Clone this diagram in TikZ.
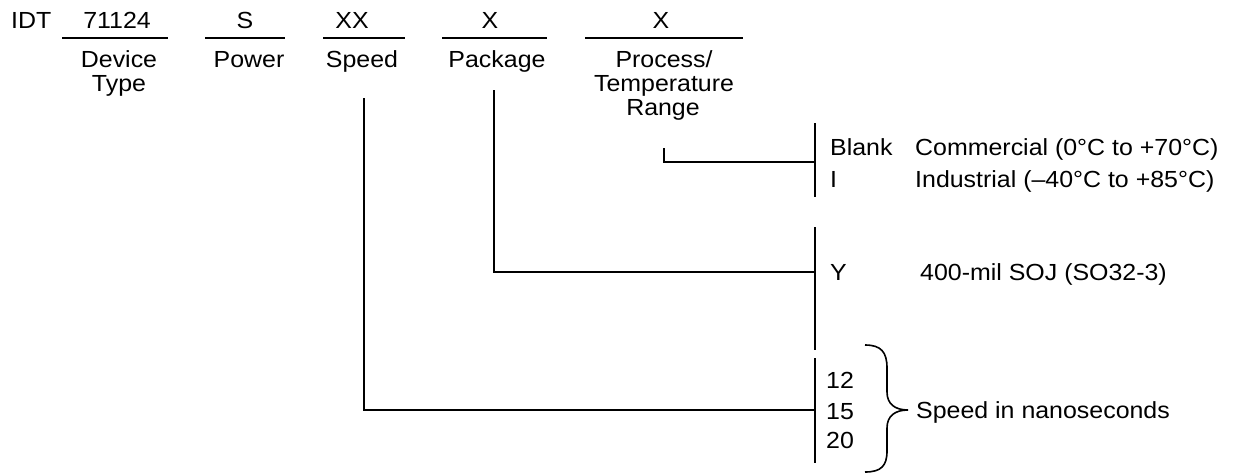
\documentclass[tikz,border=0pt]{standalone}
\usepackage{fontspec}
\setmainfont{Liberation Sans}[FakeStretch=1.07]
\begin{document}
\begin{tikzpicture}[x=1pt,y=1pt,
  txt/.style={inner sep=0pt,font=\fontsize{23.3}{24}\selectfont},
  lab/.style={txt,anchor=base},
  rlab/.style={txt,anchor=base west},
  ln/.style={line width=1.8pt},
  conn/.style={line width=1.8pt}]
\useasboundingbox (0,0) rectangle (1237,-474);
% top row
\node[rlab] (idt) at (11,-28) {IDT};
\node[lab] (dev) at (117,-28) {71124};
\node[lab] (pow) at (245,-28) {S};
\node[lab] (spd) at (352,-28) {XX};
\node[lab] (pkg) at (490,-28) {X};
\node[lab] (prc) at (661,-28) {X};
% underlines
\coordinate (u1a) at (62,-38);  \coordinate (u1b) at (168,-38);
\coordinate (u2a) at (205,-38); \coordinate (u2b) at (285,-38);
\coordinate (u3a) at (323,-38); \coordinate (u3b) at (405,-38);
\coordinate (u4a) at (442,-38); \coordinate (u4b) at (547,-38);
\coordinate (u5a) at (585,-38); \coordinate (u5b) at (743,-38);
\draw[ln] (u1a) -- (u1b);
\draw[ln] (u2a) -- (u2b);
\draw[ln] (u3a) -- (u3b);
\draw[ln] (u4a) -- (u4b);
\draw[ln] (u5a) -- (u5b);
% labels
\node[lab] (devA) at (119,-67) {Device};
\node[lab] (devB) at (119,-91) {Type};
\node[lab] (powA) at (249,-67) {Power};
\node[lab] (spdA) at (362,-67) {Speed};
\node[lab] (pkgA) at (497,-67) {Package};
\node[lab] (prcA) at (664,-67) {Process/};
\node[lab] (prcB) at (664,-91) {Temperature};
\node[lab] (prcC) at (663,-115) {Range};
% process / temperature
\coordinate (prcTop) at (664,-148);
\coordinate (prcJ) at (815,-162);
\coordinate (prcBT) at (815,-123);
\coordinate (prcBB) at (815,-197);
\draw[conn] (prcTop) |- (prcJ);
\draw[ln] (prcBT) -- (prcBB);
\node[rlab] (blank) at (830,-155) {Blank};
\node[rlab] (comm) at (915,-155) {Commercial (0°C to +70°C)};
\node[rlab] (ind) at (830,-187) {I};
\node[rlab] (indt) at (915,-187) {Industrial (–40°C to +85°C)};
% package
\coordinate (pkgTop) at (494,-90);
\coordinate (pkgJ) at (815,-272);
\coordinate (pkgBT) at (815,-227);
\coordinate (pkgBB) at (815,-350);
\draw[conn] (pkgTop) |- (pkgJ);
\draw[ln] (pkgBT) -- (pkgBB);
\node[rlab] (y) at (830,-280) {Y};
\node[rlab] (soj) at (920,-280) {400-mil SOJ (SO32-3)};
% speed
\coordinate (spdTop) at (364,-98);
\coordinate (spdJ) at (815,-410);
\coordinate (spdBT) at (815,-358);
\coordinate (spdBB) at (815,-463);
\draw[conn] (spdTop) |- (spdJ);
\draw[ln] (spdBT) -- (spdBB);
\node[rlab] (s12) at (826,-388) {12};
\node[rlab] (s15) at (826,-419) {15};
\node[rlab] (s20) at (826,-448) {20};
\coordinate (brT) at (865,-345);
\coordinate (brTip) at (908,-410);
\coordinate (brB) at (865,-472);
\draw[line width=1.6pt] (brT) .. controls (881,-345) and (887,-352) .. (887,-368)
  -- (887,-392) .. controls (887,-404) and (895,-410) .. (brTip)
  .. controls (895,-410) and (887,-416) .. (887,-428)
  -- (887,-451) .. controls (887,-466) and (881,-472) .. (brB);
\node[rlab] (sns) at (916,-418) {Speed in nanoseconds};
\end{tikzpicture}
\end{document}
